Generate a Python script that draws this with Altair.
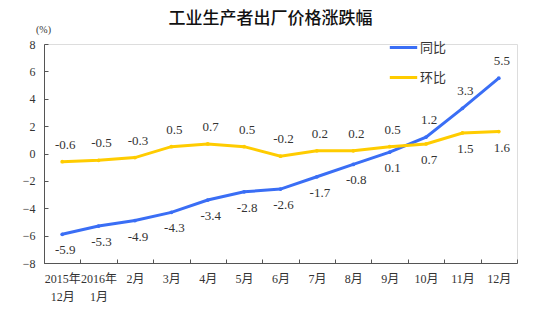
import altair as alt
import pandas as pd

categories = ["2015年\n12月", "2016年\n1月", "2月", "3月", "4月", "5月", "6月",
              "7月", "8月", "9月", "10月", "11月", "12月"]
yoy = [-5.9, -5.3, -4.9, -4.3, -3.4, -2.8, -2.6, -1.7, -0.8, 0.1, 1.2, 3.3, 5.5]
mom = [-0.6, -0.5, -0.3, 0.5, 0.7, 0.5, -0.2, 0.2, 0.2, 0.5, 0.7, 1.5, 1.6]
series_names = ["同比", "环比"]
colors = ["#3A6EF5", "#FFCC00"]
# label side: blue below first ten, above last three; yellow the reverse
yoy_side = ["below"] * 10 + ["above"] * 3
mom_side = ["above"] * 10 + ["below"] * 3

rows = []
for i, c in enumerate(categories):
    rows.append({"cat": c, "series": series_names[0], "value": yoy[i],
                 "side": yoy_side[i], "text": f"{yoy[i]:.1f}"})
    rows.append({"cat": c, "series": series_names[1], "value": mom[i],
                 "side": mom_side[i], "text": f"{mom[i]:.1f}"})
df = pd.DataFrame(rows)

NUM_FONT = "Liberation Serif, Noto Sans CJK SC"
CJK_FONT = "Noto Sans CJK SC"

xscale = alt.Scale(type="band", paddingInner=0, paddingOuter=0, domain=categories)
yscale = alt.Scale(domain=[-8, 8])
cscale = alt.Scale(domain=series_names, range=colors)

x_main = alt.X("cat:N", scale=xscale, sort=categories, title=None,
               axis=alt.Axis(tickBand="extent", labelAngle=0, labelExpr="split(datum.label, '\\n')",
                             labelFont=NUM_FONT, labelFontSize=12, labelColor="#333333",
                             labelPadding=10, labelLineHeight=18,
                             domain=False, offset=-4, tickSize=4, tickColor="#555555",
                             orient="bottom"))
y_main = alt.Y("value:Q", scale=yscale, title="(%)",
               axis=alt.Axis(values=list(range(-8, 9, 2)), grid=False, domain=False,
                             offset=-4, tickSize=4, tickColor="#555555",
                             labelFont=NUM_FONT, labelFontSize=12, labelColor="#333333",
                             labelPadding=9, orient="left",
                             titleAngle=0, titleFont=NUM_FONT, titleFontSize=10,
                             titleFontWeight="normal", titleColor="#333333",
                             titleX=-5, titleY=-10, titleAlign="center"))

color_enc = alt.Color("series:N", scale=cscale, sort=series_names,
                      legend=alt.Legend(title=None, orient="none", legendX=344, legendY=-12,
                                        direction="vertical", symbolType="stroke",
                                        symbolStrokeWidth=3, symbolSize=750,
                                        rowPadding=7, labelFont=CJK_FONT, labelFontSize=13,
                                        labelColor="#333333", labelOffset=1))

lines = alt.Chart(df).mark_line(strokeWidth=3, point=alt.OverlayMarkDef(filled=True, size=14)).encode(
    x=x_main, y=y_main, color=color_enc, detail="series:N")

# domain lines (separate axes so that ticks point inward)
x_dom = alt.X("cat:N", scale=xscale, sort=categories, title=None,
              axis=alt.Axis(labels=False, ticks=False, domain=True, domainColor="#555555",
                            domainWidth=1, orient="bottom"))
y_dom = alt.Y("value:Q", scale=yscale, title=None,
              axis=alt.Axis(labels=False, ticks=False, domain=True, domainColor="#555555",
                            domainWidth=1, grid=False, orient="left"))

text_above = alt.Chart(df).transform_filter(alt.datum.side == "above").mark_text(
    dy=-17, dx=3, font=NUM_FONT, fontSize=13, color="#333333").encode(
    x=x_dom, y=y_dom, text="text:N")
text_below = alt.Chart(df).transform_filter(alt.datum.side == "below").mark_text(
    dy=16, dx=3, font=NUM_FONT, fontSize=13, color="#333333").encode(
    x=alt.X("cat:N", scale=xscale, sort=categories, axis=None),
    y=alt.Y("value:Q", scale=yscale, axis=None), text="text:N")

chart = alt.layer(lines, text_above, text_below).resolve_axis(
    x="independent", y="independent").properties(
    width=473, height=219,
    padding={"left": 44, "top": 44, "right": 33, "bottom": 51},
    autosize=alt.AutoSizeParams(type="none"),
    title=alt.TitleParams("工业生产者出厂价格涨跌幅", font=CJK_FONT, fontSize=17,
                          fontWeight=500, color="#111111", dx=-10, offset=-4),
).configure_view(stroke=None).configure(background="white")

chart.save("out.html", embed_options={"renderer": "svg", "actions": False})
